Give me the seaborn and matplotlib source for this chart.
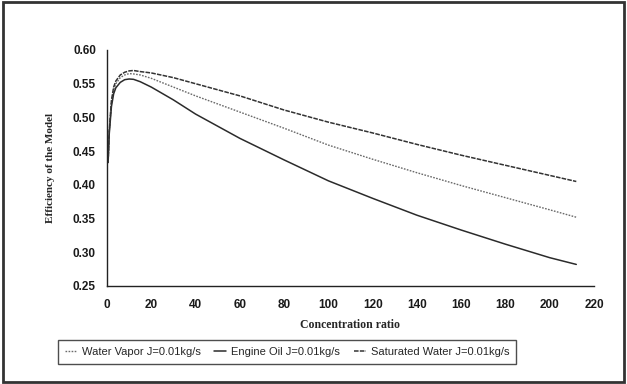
import matplotlib
matplotlib.use("Agg")
import matplotlib.pyplot as plt
import seaborn as sns
import pandas as pd
from matplotlib.patches import Rectangle

x_vals = [0.5, 1, 2, 3, 4, 6, 8, 10, 12, 15, 20, 30, 40, 60, 80, 100, 120, 140, 160, 180, 200, 212]
water_vapor = [0.433, 0.478, 0.522, 0.541, 0.550, 0.559, 0.563, 0.565, 0.5645, 0.563, 0.558, 0.545, 0.532,
               0.508, 0.484, 0.459, 0.438, 0.418, 0.399, 0.381, 0.363, 0.352]
engine_oil = [0.433, 0.475, 0.516, 0.535, 0.544, 0.552, 0.556, 0.557, 0.5565, 0.553, 0.545, 0.526, 0.505,
              0.469, 0.437, 0.406, 0.380, 0.355, 0.333, 0.312, 0.292, 0.282]
saturated_water = [0.433, 0.480, 0.525, 0.545, 0.554, 0.563, 0.567, 0.569, 0.5696, 0.568, 0.566, 0.559, 0.550,
                   0.532, 0.511, 0.493, 0.477, 0.460, 0.444, 0.429, 0.414, 0.405]
series_names = ["Water Vapor J=0.01kg/s", "Engine Oil J=0.01kg/s", "Saturated Water J=0.01kg/s"]
x_ticks = [0, 20, 40, 60, 80, 100, 120, 140, 160, 180, 200, 220]
y_ticks = [0.25, 0.30, 0.35, 0.40, 0.45, 0.50, 0.55, 0.60]

rows = []
for name, vals in zip(series_names, [water_vapor, engine_oil, saturated_water]):
    for xv, yv in zip(x_vals, vals):
        rows.append({"x": xv, "y": yv, "series": name})
df = pd.DataFrame(rows)

sns.set_style("white")
plt.rcParams["font.family"] = ["Liberation Sans", "DejaVu Sans"]

fig = plt.figure(figsize=(6.27, 3.84), dpi=100)
ax = fig.add_axes([107/627, 1-286/384, (594-107)/627, (286-50)/384])

styles = {
    series_names[0]: dict(color="#6a6a6a", ls=(0, (1.2, 1.0)), lw=1.0),
    series_names[1]: dict(color="#2b2b2b", ls="-", lw=1.1),
    series_names[2]: dict(color="#333333", ls=(0, (3.0, 0.8)), lw=1.1),
}
for name in series_names:
    sub = df[df["series"] == name]
    st = styles[name]
    sns.lineplot(data=sub, x="x", y="y", ax=ax, color=st["color"], linestyle=st["ls"],
                 linewidth=st["lw"], label=name, legend=False)

ax.set_xlim(0, 220)
ax.set_ylim(0.25, 0.60)
ax.set_xticks(x_ticks)
ax.set_yticks(y_ticks)
ax.set_xticklabels([str(t) for t in x_ticks], fontweight="bold")
ax.set_yticklabels([f"{t:.2f}" for t in y_ticks], fontweight="bold")
for s in ["top", "right"]:
    ax.spines[s].set_visible(False)
for s in ["left", "bottom"]:
    ax.spines[s].set_color("#222222")
    ax.spines[s].set_linewidth(1.0)
ax.tick_params(axis="both", which="major", direction="out", length=4, width=0.8,
               color="#222222", labelsize=8.5, labelcolor="#1a1a1a", pad=5)
ax.tick_params(axis="y", pad=4)
ax.set_xlabel("Concentration ratio", family="Liberation Serif", weight="bold", fontsize=8.5, labelpad=6)
ax.set_ylabel("Efficiency of the Model", family="Liberation Serif", weight="bold", fontsize=8, labelpad=13)

handles, labels = ax.get_legend_handles_labels()
leg = fig.legend(handles, labels, loc="center", bbox_to_anchor=(287/627, 1-352/384), ncol=3,
                 frameon=True, fancybox=False, edgecolor="#222222", fontsize=8,
                 handlelength=1.1, handletextpad=0.45, columnspacing=1.2, borderpad=0.6)
leg.get_frame().set_linewidth(1.0)

fig.patches.append(Rectangle((0.004, 0.006), 0.992, 0.988, transform=fig.transFigure,
                             fill=False, edgecolor="#333333", linewidth=2.0))

fig.savefig("out.png", dpi=100)
